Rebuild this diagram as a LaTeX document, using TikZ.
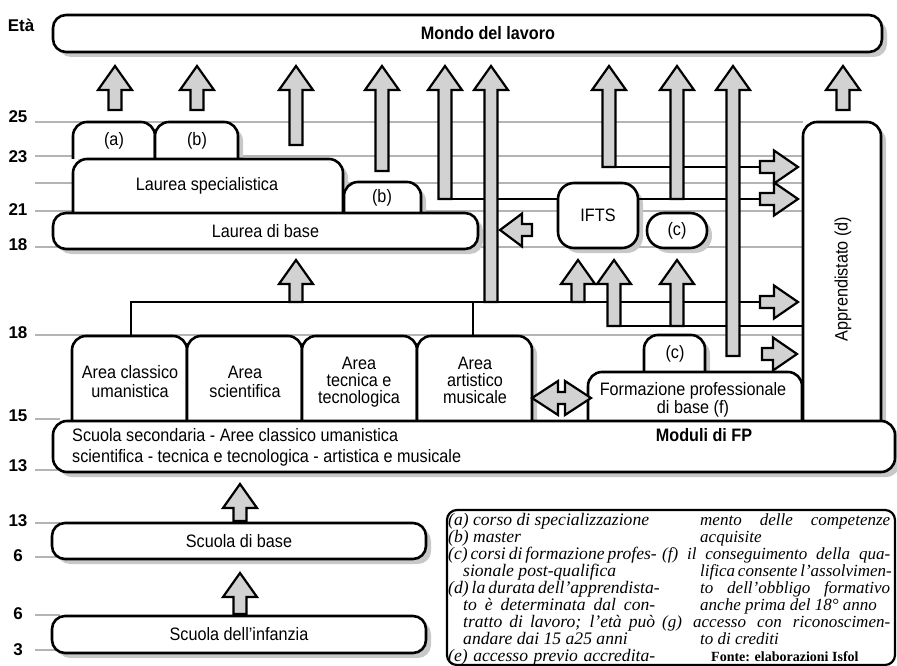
\documentclass[tikz,border=0pt]{standalone}
\usepackage{fontspec}
\setmainfont{Liberation Serif}
\newfontfamily\boxfont{Liberation Sans}[FakeStretch=0.9]
\newfontfamily\agefont{Liberation Sans}
\usetikzlibrary{shadows}
\definecolor{gridgray}{HTML}{B4B4B4}
\definecolor{shdgray}{HTML}{C8C8C8}
\definecolor{arrgray}{HTML}{D2D2D2}
% block arrows: x, tip, end
\newcommand\uparr[3]{\draw[blk] (#1-6.5,#3) -- (#1-6.5,#2+24) -- (#1-17,#2+24) -- (#1,#2)
  -- (#1+17,#2+24) -- (#1+6.5,#2+24) -- (#1+6.5,#3) -- cycle;}
\newcommand\rtarr[3]{\draw[blk] (#1,#2-6) -- (#3-24,#2-6) -- (#3-24,#2-16.5) -- (#3,#2)
  -- (#3-24,#2+16.5) -- (#3-24,#2+6) -- (#1,#2+6) -- cycle;}
\newcommand\ltarr[3]{\draw[blk] (#1,#2-6) -- (#3+22,#2-6) -- (#3+22,#2-16.5) -- (#3,#2)
  -- (#3+22,#2+16.5) -- (#3+22,#2+6) -- (#1,#2+6) -- cycle;}
% box rounded on top only
\newcommand\tabbox[4]{\filldraw[tab] (#1,#4) -- (#1,#2) -- (#3,#2) -- (#3,#4);}
\newcommand\jl[2]{\makebox[#1][s]{#2}}

\begin{document}
\begin{tikzpicture}[x=1pt, y=-1pt,
  grid/.style = {gridgray, line width=1.4pt},
   age/.style = {font=\agefont\bfseries\fontsize{17}{17}\selectfont, inner sep=0pt},
   shd/.style = {drop shadow={shadow xshift=5pt, shadow yshift=-5pt, fill=shdgray, opacity=1}},
  rbox/.style = {draw, fill=white, line width=2.6pt, rounded corners=13pt, shd, inner sep=0pt},
   tab/.style = {draw, fill=white, line width=2.6pt, rounded corners=14pt, line join=round, shd},
   blk/.style = {draw, fill=arrgray, line width=2.2pt},
  link/.style = {draw, line width=2.2pt},
   txt/.style = {font=\boxfont\fontsize{18}{17}\selectfont, align=center, inner sep=0pt},
  btxt/.style = {txt, font=\boxfont\bfseries\fontsize{18}{17}\selectfont},
   leg/.style = {font=\itshape\fontsize{17.6}{17}\selectfont, align=left, inner sep=0pt, anchor=north west}
                    ]
\useasboundingbox (0,0) rectangle (897,666);

% age scale
\node[age] (eta) at (21,25) {Età};
\foreach \a/\y in {25/117,23/157,21/210,18/245,18/333,15/416,13/466,13/521,6/556,6/614,3/650}
  \node[age] (age\y) at (18,\y) {\a};
\foreach \y in {122,156,183,211,247,335}
  \draw[grid] (35,\y) -- (803,\y);
\foreach \y in {419,470,523,557,615,650}
  \draw[grid] (35,\y) -- (60,\y);

% boxes open at the bottom
\tabbox{73}{122}{155}{159}
\tabbox{155}{122}{238}{159}
\tabbox{73}{159}{343}{213}
\tabbox{344}{182}{421}{213}
\tabbox{644}{335}{705}{372}
\tabbox{588}{372}{802}{421}
\foreach \xa/\xb in {72/187,187/302,302/417,417/532}
  {\tabbox{\xa}{336}{\xb}{421}}
\tabbox{803}{122}{881}{421}

% rounded boxes
\node[rbox, minimum width=829pt, minimum height=37pt] (mondo) at (467.5,33.5) {};
\node[rbox, txt, minimum width=425pt, minimum height=36pt] (labase) at (265.5,231) {Laurea di base};
\node[rbox, txt, minimum width=80pt, minimum height=65pt, rounded corners=16pt] (ifts) at (598,215.5) {IFTS};
\node[rbox, txt, minimum width=60pt, minimum height=35pt, rounded corners=17pt] (postq) at (677,230.5) {(c)};
\node[rbox, minimum width=842pt, minimum height=51pt, rounded corners=14pt] (sec) at (474,446.5) {};
\node[rbox, txt, minimum width=374pt, minimum height=36pt] (base) at (239,541) {Scuola di base};
\node[rbox, txt, minimum width=374pt, minimum height=37pt] (inf) at (239,634.5) {Scuola dell’infanzia};
\node[draw, line width=2.2pt, rounded corners=10pt, minimum width=448pt, minimum height=155pt] (legend) at (671,587.5) {};

% texts
\node[btxt] (mondotxt) at (488,33) {Mondo del lavoro};
\node[txt] (spec) at (207,186) {Laurea specialistica};
\node[txt] (corsoa) at (114,141) {(a)};
\node[txt] (mastera) at (197,141) {(b)};
\node[txt] (masterb) at (382,198) {(b)};
\node[txt] (postqb) at (675,354) {(c)};
\node[txt, rotate=90] (appr) at (843,279) {Apprendistato (d)};
\node[txt, font=\boxfont\fontsize{18}{19}\selectfont] (classico) at (130,382) {Area classico\\umanistica};
\node[txt, font=\boxfont\fontsize{18}{19}\selectfont] (scient) at (245,382) {Area\\scientifica};
\node[txt] (tecnica) at (359,382) {Area\\tecnica e\\tecnologica};
\node[txt] (artist) at (475,380) {Area\\artistico\\musicale};
\node[txt, font=\boxfont\fontsize{18}{15}\selectfont] (fp) at (693,400) {Formazione professionale\\di base (f)};
\node[txt, align=left, anchor=west, font=\boxfont\fontsize{18}{21}\selectfont] (sectxt) at (72,447)
  {Scuola secondaria - Aree classico umanistica\\scientifica - tecnica e tecnologica - artistica e musicale};
\node[btxt] (moduli) at (704,435) {Moduli di FP};

% legend
\node[leg] (legl) at (448,513) {%
(a) corso di specializzazione\\
(b) master\\
\jl{207pt}{(c) corsi di formazione profes-}\\
\hspace*{15pt}sionale post-qualifica\\
\jl{207pt}{(d) la durata dell’apprendista-}\\
\hspace*{15pt}\jl{192pt}{to è determinata dal con-}\\
\hspace*{15pt}\jl{192pt}{tratto di lavoro; l’età può}\\
\hspace*{15pt}andare dai 15 a25 anni\\
\jl{207pt}{(e) accesso previo accredita-}};
\node[leg, font=\itshape\fontsize{17}{17}\selectfont] (legr) at (662,513) {%
\hspace*{38pt}\jl{190pt}{mento delle competenze}\\
\hspace*{38pt}acquisite\\
\jl{228pt}{(f) il conseguimento della qua-}\\
\hspace*{38pt}\jl{190pt}{lifica consente l’assolvimen-}\\
\hspace*{38pt}\jl{190pt}{to dell’obbligo formativo}\\
\hspace*{38pt}anche prima del 18° anno\\
\jl{228pt}{(g) accesso con riconoscimen-}\\
\hspace*{38pt}to di crediti\\
\hspace*{49pt}{\upshape\bfseries\fontsize{14}{17}\selectfont Fonte: elaborazioni Isfol}};

% connecting lines
\draw[link] (131,336) -- (131,302) -- (762,302);
\draw[link] (473,336) -- (473,302);
\draw[link] (438.5,199) -- (ifts.west |- 0,199);
\draw[link] (ifts.east |- 0,199) -- (762,199);
\draw[link] (602.5,167) -- (762,167);
\draw[link] (607.5,326) -- (803,326);

% block arrows
\foreach \x/\yb in {115/110,197/110,296/145,382/171,445/199,491/302,609/167,677/199,733/356,843/110}
  {\uparr{\x}{66}{\yb}}
\foreach \x/\yb in {296/302,578/302,614/326,677/326}
  {\uparr{\x}{260}{\yb}}
\uparr{240}{484}{521}
\uparr{240}{573}{614}
\foreach \y in {167,199,302}
  {\rtarr{760}{\y}{798}}
\rtarr{762}{354}{797}
\ltarr{532}{230}{500}
\draw[blk] (532,398) -- (558,381) -- (558,392) -- (565,392) -- (565,381) -- (591,398)
  -- (565,415) -- (565,404) -- (558,404) -- (558,415) -- cycle;
\end{tikzpicture}
\end{document}
